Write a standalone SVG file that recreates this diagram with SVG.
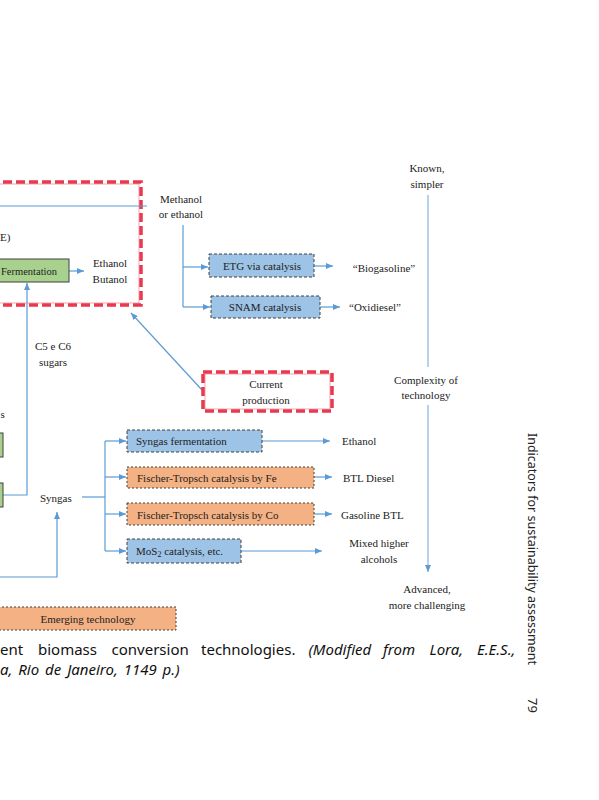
<svg xmlns="http://www.w3.org/2000/svg" width="599" height="800" viewBox="0 0 599 800">
<style>
.t{font-family:"Liberation Serif","Times New Roman",serif;font-size:11px;fill:#222}
.c{text-anchor:middle}
.blue{fill:#9dc3e6;stroke:#404040;stroke-width:1;stroke-dasharray:3 2}
.orange{fill:#f4b183;stroke:#404040;stroke-width:1;stroke-dasharray:2 2}
.green{fill:#a9d18e;stroke:#404040;stroke-width:1}
.red{fill:none;stroke:#e8394f;stroke-width:3.5;stroke-dasharray:9 4}
.redin{fill:none;stroke:#f5a3ad;stroke-width:1}
.ln{fill:none;stroke:#5b9bd5;stroke-width:1.2}
.ax{fill:none;stroke:#9dc3e6;stroke-width:1.5}
.cap{font-family:"Noto Sans","Open Sans",sans-serif;font-size:15px;fill:#111}
.side{font-family:"Noto Sans","Open Sans",sans-serif;font-size:13px;fill:#222}
</style>
<defs>
<marker id="ah" markerUnits="userSpaceOnUse" markerWidth="8" markerHeight="6" refX="7" refY="3" orient="auto">
<path d="M0,0 L7,3 L0,6 z" fill="#5b9bd5"/>
</marker>
</defs>

<g id="current-box-big">
<rect class="redin" x="-10" y="184" width="149" height="119"/>
<rect class="red" x="-10" y="182" width="151" height="123"/>
</g>

<g id="connectors">
<line class="ln" x1="0" y1="206" x2="147" y2="206"/>
<line class="ln" x1="69" y1="271" x2="84" y2="271" marker-end="url(#ah)"/>
<polyline class="ln" points="3,495 27,495 27,283" marker-end="url(#ah)"/>
<line class="ln" x1="202" y1="390" x2="131" y2="313" marker-end="url(#ah)"/>
<line class="ln" x1="183" y1="225" x2="183" y2="307"/>
<line class="ln" x1="183" y1="267" x2="208" y2="267" marker-end="url(#ah)"/>
<line class="ln" x1="183" y1="307" x2="210" y2="307" marker-end="url(#ah)"/>
<line class="ln" x1="314" y1="266" x2="333" y2="266" marker-end="url(#ah)"/>
<line class="ln" x1="320" y1="307" x2="340" y2="307" marker-end="url(#ah)"/>
<polyline class="ln" points="0,577 57,577 57,512" marker-end="url(#ah)"/>
<line class="ln" x1="82" y1="497" x2="105" y2="497"/>
<line class="ln" x1="105" y1="441" x2="105" y2="551"/>
<line class="ln" x1="105" y1="441" x2="126" y2="441" marker-end="url(#ah)"/>
<line class="ln" x1="105" y1="477" x2="126" y2="477" marker-end="url(#ah)"/>
<line class="ln" x1="105" y1="514" x2="126" y2="514" marker-end="url(#ah)"/>
<line class="ln" x1="105" y1="551" x2="126" y2="551" marker-end="url(#ah)"/>
<line class="ln" x1="262" y1="441" x2="330" y2="441" marker-end="url(#ah)"/>
<line class="ln" x1="314" y1="477" x2="332" y2="477" marker-end="url(#ah)"/>
<line class="ln" x1="314" y1="514" x2="332" y2="514" marker-end="url(#ah)"/>
<line class="ln" x1="241" y1="551" x2="322" y2="551" marker-end="url(#ah)"/>
<line class="ax" x1="428" y1="195" x2="428" y2="367"/>
<line class="ax" x1="428" y1="405" x2="428" y2="572" marker-end="url(#ah)"/>
</g>

<g id="cut-label-e"><text class="t" x="0" y="241">E)</text></g>
<g id="fermentation">
<rect class="green" x="-20" y="259" width="89" height="23"/>
<text class="t" x="1" y="275" textLength="56" lengthAdjust="spacingAndGlyphs">Fermentation</text>
</g>
<g id="ethanol-butanol">
<text class="t c" x="110" y="267">Ethanol</text>
<text class="t c" x="110" y="283">Butanol</text>
</g>
<g id="sugars"><text class="t c" x="53" y="350">C5 e C6</text><text class="t c" x="53" y="366">sugars</text></g>
<g id="cut-label-s"><text class="t" x="0.5" y="418">s</text></g>
<g id="green-left-1"><rect class="green" x="-30" y="433" width="33" height="24"/></g>
<g id="green-left-2"><rect class="green" x="-30" y="483" width="33" height="24"/></g>

<g id="methanol"><text class="t c" x="181" y="203">Methanol</text><text class="t c" x="181" y="218">or ethanol</text></g>
<g id="etg">
<rect class="blue" x="209" y="254" width="105" height="23"/>
<text class="t c" x="262" y="270">ETG via catalysis</text>
</g>
<g id="biogasoline"><text class="t c" x="384" y="272">“Biogasoline”</text></g>
<g id="snam">
<rect class="blue" x="211" y="296" width="109" height="22"/>
<text class="t c" x="265" y="311">SNAM catalysis</text>
</g>
<g id="oxidiesel"><text class="t c" x="375" y="311">“Oxidiesel”</text></g>

<g id="current-production">
<rect class="redin" x="205" y="374" width="125" height="35"/>
<rect class="red" x="203" y="372" width="129" height="39"/>
<text class="t c" x="266" y="388">Current</text>
<text class="t c" x="266" y="404">production</text>
</g>

<g id="syngas"><text class="t" x="40" y="502">Syngas</text></g>
<g id="syngas-fermentation">
<rect class="blue" x="127" y="430" width="135" height="22"/>
<text class="t" x="136" y="445">Syngas fermentation</text>
</g>
<g id="ft-fe">
<rect class="orange" x="127" y="467" width="187" height="21"/>
<text class="t" x="137" y="482">Fischer-Tropsch catalysis by Fe</text>
</g>
<g id="ft-co">
<rect class="orange" x="127" y="503" width="187" height="22"/>
<text class="t" x="137" y="519">Fischer-Tropsch catalysis by Co</text>
</g>
<g id="mos2">
<rect class="blue" x="127" y="539" width="114" height="24"/>
<text class="t" x="136" y="555">MoS<tspan font-size="8" dy="2">2</tspan><tspan dy="-2"> catalysis, etc.</tspan></text>
</g>
<g id="out-ethanol"><text class="t" x="342" y="445">Ethanol</text></g>
<g id="out-btl-diesel"><text class="t" x="343" y="482">BTL Diesel</text></g>
<g id="out-gasoline"><text class="t" x="341" y="519">Gasoline BTL</text></g>
<g id="out-mixed"><text class="t c" x="379" y="547">Mixed higher</text><text class="t c" x="379" y="563">alcohols</text></g>

<g id="known"><text class="t c" x="427" y="172">Known,</text><text class="t c" x="427" y="188">simpler</text></g>
<g id="complexity"><text class="t c" x="426" y="384">Complexity of</text><text class="t c" x="426" y="399">technology</text></g>
<g id="advanced"><text class="t c" x="427" y="593">Advanced,</text><text class="t c" x="427" y="609">more challenging</text></g>

<g id="emerging">
<rect class="orange" x="-10" y="607" width="186" height="23"/>
<text class="t c" x="88" y="623">Emerging technology</text>
</g>

<g id="caption">
<text class="cap" y="655"><tspan x="0">ent</tspan><tspan x="38">biomass</tspan><tspan x="111.5">conversion</tspan><tspan x="201">technologies.</tspan><tspan x="308.5" font-style="italic">(Modified</tspan><tspan x="383" font-style="italic">from</tspan><tspan x="429.5" font-style="italic">Lora,</tspan><tspan x="477" font-style="italic">E.E.S.,</tspan></text>
<text class="cap" x="0" y="675" font-style="italic" word-spacing="2">a, Rio de Janeiro, 1149 p.)</text>
</g>

<g id="running-head">
<text class="side" transform="translate(528,433) rotate(90)" x="0" y="0" textLength="232" lengthAdjust="spacingAndGlyphs">Indicators for sustainability assessment</text>
<text class="side" font-size="15" transform="translate(528,698) rotate(90)" x="0" y="0">79</text>
</g>
</svg>
